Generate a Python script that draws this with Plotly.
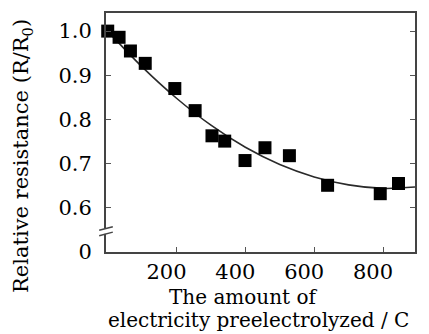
import plotly.graph_objects as go

# Measured relative resistance vs. charge passed during pre-electrolysis
charge_c = [0, 33, 66, 109, 195, 254, 303, 340, 399, 457, 528, 639, 792, 845]
rel_resistance = [1.000, 0.986, 0.955, 0.927, 0.870, 0.820, 0.763, 0.751,
                  0.707, 0.736, 0.718, 0.651, 0.632, 0.655]

# Trend curve through the measurements
fit_x = [0, 100, 200, 300, 400, 500, 600, 700, 800, 893]
fit_y = [1.000, 0.919, 0.848, 0.787, 0.737, 0.698, 0.670, 0.652, 0.644, 0.647]

ytick_vals = [0.5, 0.6, 0.7, 0.8, 0.9, 1.0]
ytick_text = ["0", "0.6", "0.7", "0.8", "0.9", "1.0"]
xtick_vals = [200, 400, 600, 800]

FONT = "DejaVu Serif"
FS = 21
TITLE_FS = 20

fig = go.Figure()
fig.add_trace(go.Scatter(x=fit_x, y=fit_y, mode="lines", line_shape="spline",
                         line=dict(color="#2a2a2a", width=1.6), hoverinfo="skip"))
fig.add_trace(go.Scatter(x=charge_c, y=rel_resistance, mode="markers", cliponaxis=False,
                         marker=dict(symbol="square", size=13, color="black")))

fig.update_layout(
    width=429, height=334,
    margin=dict(l=106, r=14, t=13, b=82, autoexpand=False),
    plot_bgcolor="white", paper_bgcolor="white",
    showlegend=False,
    font=dict(family=FONT, size=FS, color="black"),
)
fig.update_xaxes(range=[-5, 893], tickvals=xtick_vals, ticks="inside", ticklen=5,
                 tickcolor="#555", showgrid=False, zeroline=False,
                 showline=True, linecolor="#444", linewidth=2, mirror=True,
                 ticklabelshift=-10, ticklabelstandoff=0,
                 tickfont=dict(family=FONT, size=FS))
fig.update_yaxes(range=[0.5, 1.041], tickvals=ytick_vals, ticktext=ytick_text,
                 ticks="inside", ticklen=5, tickcolor="#555", showgrid=False,
                 zeroline=False, showline=True, linecolor="#444", linewidth=2,
                 mirror="ticks", ticklabelstandoff=8,
                 tickfont=dict(family=FONT, size=FS))

# axis break marks on the y axis
fig.add_shape(type="rect", xref="paper", yref="y", x0=-0.012, x1=0.012,
              y0=0.541, y1=0.553, fillcolor="white", line=dict(width=0), layer="above")
for yb in (0.541, 0.553):
    fig.add_shape(type="line", xref="paper", yref="y", x0=-0.022, x1=0.022,
                  y0=yb - 0.004, y1=yb + 0.004, line=dict(color="#444", width=1.5),
                  layer="above")

fig.add_annotation(text="The amount of", xref="paper", yref="paper",
                   x=0.445, y=-0.19, showarrow=False, yanchor="middle",
                   font=dict(family=FONT, size=TITLE_FS))
fig.add_annotation(text="electricity preelectrolyzed / C", xref="paper", yref="paper",
                   x=0.495, y=-0.285, showarrow=False, yanchor="middle",
                   font=dict(family=FONT, size=TITLE_FS))
fig.add_annotation(text="Relative resistance (R/R<sub>0</sub>)", xref="paper",
                   yref="paper", x=-0.27, y=0.40, textangle=-90, showarrow=False,
                   xanchor="center", yanchor="middle", font=dict(family=FONT, size=FS))

fig.write_html("out.html")
